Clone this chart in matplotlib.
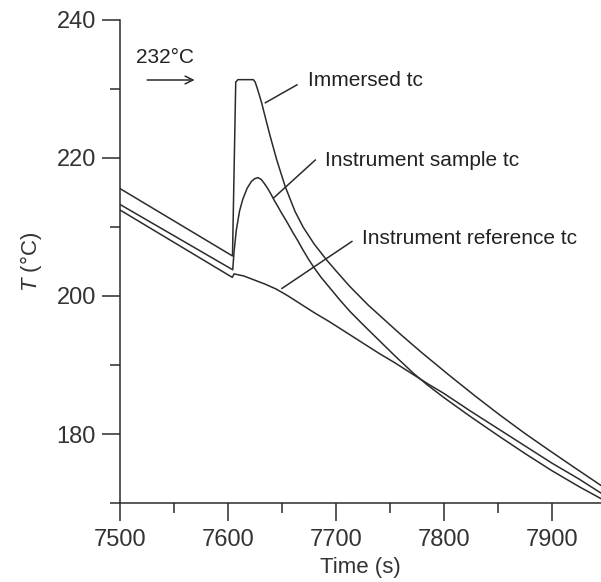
import numpy as np
import matplotlib
matplotlib.use("Agg")
import matplotlib.pyplot as plt
from matplotlib.ticker import MultipleLocator

plt.rcParams["font.family"] = ["Liberation Sans", "DejaVu Sans"]
plt.rcParams["mathtext.fontset"] = "custom"
plt.rcParams["mathtext.it"] = "Liberation Sans:italic"
plt.rcParams["mathtext.rm"] = "Liberation Sans"

# immersed thermocouple
immersed_t = [7500, 7604.5, 7607.5, 7609.5, 7623.8, 7625.5, 7627, 7629, 7631.6, 7634.7, 7639.3,
              7645.5, 7653.2, 7662.4, 7670, 7680, 7692, 7700, 7713, 7730, 7760, 7780, 7806,
              7830, 7852, 7875, 7898, 7920, 7946]
immersed_T = [215.6, 205.8, 231.0, 231.35, 231.35, 231.0, 230.3, 229.3, 227.9, 226.0, 223.2,
              219.7, 215.9, 212.25, 209.95, 207.55, 205.15, 203.7, 201.4, 198.7, 194.45, 191.75, 188.4,
              185.4, 182.75, 180.1, 177.6, 175.25, 172.5]

# instrument sample thermocouple
sample_t = [7500, 7604.7, 7606, 7608, 7611, 7614, 7618, 7622, 7625, 7628, 7631, 7634, 7637,
            7640, 7643, 7646, 7650, 7655, 7660, 7665, 7670, 7675, 7680, 7687, 7695, 7704,
            7713, 7725, 7740, 7755, 7772, 7785, 7800, 7825, 7852, 7875, 7900, 7925, 7946]
sample_T = [213.3, 203.8, 206.5, 209.5, 212.3, 214.0, 215.6, 216.6, 217.0, 217.15, 216.9, 216.3, 215.6,
            214.8, 213.9, 213.1, 212.0, 210.7, 209.3, 208.0, 206.6, 205.3, 204.1, 202.6, 201.1, 199.4,
            197.8, 195.9, 193.6, 191.3, 188.8, 187.1, 185.3, 182.5, 179.6, 177.2, 174.7, 172.4, 170.6]

# instrument reference thermocouple
ref_t = [7500, 7604.3, 7606, 7615, 7625, 7635, 7645, 7655, 7665, 7680, 7695, 7710, 7725,
         7740, 7755, 7772, 7785, 7800, 7825, 7852, 7875, 7900, 7925, 7946]
ref_T = [212.5, 202.7, 203.2, 202.9, 202.3, 201.7, 201.0, 200.1, 199.1, 197.6, 196.2, 194.7, 193.2,
         191.7, 190.3, 188.6, 187.3, 185.9, 183.3, 180.6, 178.3, 175.8, 173.5, 171.4]

ink = "#2b2b2b"

fig = plt.figure(figsize=(6.01, 5.82), dpi=100)
ax = fig.add_axes([0.199, 0.1357, 0.801, 0.83])

for t, T in [(immersed_t, immersed_T), (sample_t, sample_T), (ref_t, ref_T)]:
    ax.plot(t, T, color=ink, lw=1.1, solid_joinstyle="round")

ax.set_xlim(7500, 7945.6)
ax.set_ylim(170, 240)

ax.spines["top"].set_visible(False)
ax.spines["right"].set_visible(False)
for s in ["left", "bottom"]:
    ax.spines[s].set_linewidth(1.1)
    ax.spines[s].set_color(ink)

ax.xaxis.set_major_locator(MultipleLocator(100))
ax.xaxis.set_minor_locator(MultipleLocator(50))
ax.yaxis.set_major_locator(MultipleLocator(20))
ax.yaxis.set_minor_locator(MultipleLocator(10))
ax.tick_params(which="major", direction="out", length=13, width=1.1, color=ink,
               labelsize=17, labelcolor="#333333")
ax.tick_params(axis="x", which="major", pad=6)
ax.tick_params(axis="y", which="major", pad=4)
ax.tick_params(which="minor", direction="out", length=7, width=1.1, color=ink)

ax.set_xlabel("Time (s)", fontsize=16, color="#333333", labelpad=4)
ax.set_ylabel(r"$T$ (°C)", fontsize=16, color="#333333", labelpad=9)

fs = 15
ax.text(7514.8, 234.6, "232°C", fontsize=fs, color="#222222", va="center", ha="left")
ax.annotate("", xy=(7572, 231.3), xytext=(7523, 231.3),
            arrowprops=dict(arrowstyle="->", color=ink, lw=1.1, mutation_scale=14))

ax.text(7674.6, 231.3, "Immersed tc", fontsize=fs, color="#222222", va="center", ha="left")
ax.plot([7634.9, 7664.2], [228.0, 230.6], color=ink, lw=1.1)

ax.text(7690.3, 219.7, "Instrument sample tc", fontsize=fs, color="#222222", va="center", ha="left")
ax.plot([7642.5, 7681.1], [214.2, 219.7], color=ink, lw=1.1)

ax.text(7724.2, 208.3, "Instrument reference tc", fontsize=fs, color="#222222", va="center", ha="left")
ax.plot([7650.3, 7715.0], [201.1, 207.9], color=ink, lw=1.1)

fig.savefig("out.png", dpi=100)
